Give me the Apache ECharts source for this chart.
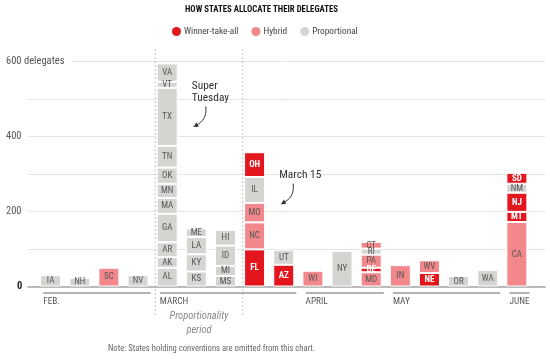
<!DOCTYPE html>
<html><head><meta charset="utf-8">
<script src="https://cdn.jsdelivr.net/npm/echarts@6/dist/echarts.min.js"></script>
<style>html,body{margin:0;padding:0;background:#fff}#c{width:550px;height:359px}</style>
</head><body><div id="c"></div>
<script>
// ---- data ----
const columns = ['Feb 1','Feb 9','Feb 20','Feb 23','Mar 1','Mar 5','Mar 8','Mar 15','Mar 22','Apr 5','Apr 19','Apr 26','May 3','May 10','May 17','May 24','Jun 7'];
// states listed bottom -> top within each column
const states      = ['IA','NH','SC','NV',
  'AL','AK','AR','GA','MA','MN','OK','TN','TX','VT','VA',
  'KS','KY','LA','ME',
  'MS','MI','ID','HI',
  'FL','NC','MO','IL','OH',
  'AZ','UT',
  'WI','NY',
  'MD','DE','PA','RI','CT',
  'IN','NE','WV','OR','WA',
  'CA','MT','NJ','NM','SD'];
const delegates   = [30,23,50,30,
  50,28,40,76,42,38,43,58,155,16,49,
  40,46,46,23,
  28,27,54,42,
  99,72,52,69,66,
  58,40,
  42,95,
  38,12,35,16,18,
  57,36,34,28,44,
  172,27,51,24,29];
const method      = ['P','P','H','P',
  'P','P','P','P','P','P','P','P','P','P','P',
  'P','P','P','P',
  'P','P','P','P',
  'W','H','H','P','W',
  'W','P',
  'H','P',
  'H','W','H','P','H',
  'H','W','H','P','P',
  'H','W','W','P','W'];
const stateColumn = [0,1,2,3,
  4,4,4,4,4,4,4,4,4,4,4,
  5,5,5,5,
  6,6,6,6,
  7,7,7,7,7,
  8,8,
  9,10,
  11,11,11,11,11,
  12,13,13,14,15,
  16,16,16,16,16];
const methodNames = {W:'Winner-take-all', H:'Hybrid', P:'Proportional'};
const monthNames = ['FEB.','MARCH','APRIL','MAY','JUNE'];
const monthStart = [0,4,9,12,16];
const monthEnd   = [3,8,11,15,16];
const dividerBefore = [4,7];
const annotationCol   = [4,7];
const annotationText  = ['Super\nTuesday','March 15'];
const annotationValue = [535,297];
const yMax = 600, yStep = 100;
const yLabelled = [0,200,400,600];

// ---- style ----
const FONT = '"Roboto Condensed",Roboto,"Liberation Sans",sans-serif';
const COLORS = {W:'#e3151d', H:'#f2888c', P:'#d4d4d1'};
const BW = 20;

const perCol = columns.map(()=>[]);
states.forEach((s,i)=>perCol[stateColumn[i]].push(i));
const levels = Math.max(...perCol.map(a=>a.length));
const series = [];
for (let k=0;k<levels;k++){
  series.push({
    type:'bar', stack:'d', xAxisIndex:0, yAxisIndex:0, barWidth:BW+1, silent:true,
    itemStyle:{borderColor:'#fff', borderWidth:1},
    label:{show:true, position:'inside', formatter:p=>p.name, fontFamily:FONT, fontSize:9},
    data: perCol.map(a=>{
      if (k>=a.length) return '-';
      const i=a[k], m=method[i];
      return {value:delegates[i], name:states[i], itemStyle:{color:COLORS[m]},
        label:{color:m==='W'?'#fff':'#555', fontWeight:m==='W'?'bold':'normal'}};
    })
  });
}
['W','H','P'].forEach(m=>series.push({type:'bar', name:methodNames[m], xAxisIndex:0, yAxisIndex:0,
  data:[], itemStyle:{color:COLORS[m]}}));

// month brackets + labels
series.push({
  type:'custom', xAxisIndex:0, yAxisIndex:0, silent:true, clip:false,
  data: monthNames.map((m,i)=>[monthStart[i], monthEnd[i], i]),
  renderItem:(params, api)=>{
    const i = api.value(2);
    const x0 = api.coord([api.value(0),0])[0]-BW/2;
    const x1 = api.coord([api.value(1),0])[0]+BW/2;
    const y0 = api.coord([0,0])[1];
    return {type:'group', children:[
      {type:'line', shape:{x1:x0,y1:y0+6.5,x2:x1,y2:y0+6.5}, style:{stroke:'#9a9a9a', lineWidth:1.5}},
      {type:'text', x:x0, y:y0+15, style:{text:monthNames[i], font:'9.3px '+FONT, fill:'#555', verticalAlign:'middle', align:'left'}}
    ]};
  }
});
// proportionality dividers
series.push({
  type:'custom', xAxisIndex:0, yAxisIndex:0, silent:true, clip:false,
  data: dividerBefore.map((c,i)=>[c,i]),
  renderItem:(params, api)=>{
    const c = api.value(0);
    const x = (api.coord([c-1,0])[0]+api.coord([c,0])[0])/2;
    const yTop = api.coord([0,yMax])[1]-12, yBot = api.coord([0,0])[1]+29;
    const kids = [{type:'line', shape:{x1:x,y1:yTop,x2:x,y2:yBot}, style:{stroke:'#c4c4c4', lineWidth:1.3, lineDash:[1.5,2.5]}}];
    if (api.value(1)===0){
      const c2 = dividerBefore[1];
      const xb = (api.coord([c2-1,0])[0]+api.coord([c2,0])[0])/2;
      const xm = (x+xb)/2, y0 = api.coord([0,0])[1];
      kids.push({type:'text', x:xm, y:y0+30, style:{text:'Proportionality', font:'italic 10.4px '+FONT, fill:'#888', align:'center', verticalAlign:'middle'}});
      kids.push({type:'text', x:xm, y:y0+43.5, style:{text:'period', font:'italic 10.4px '+FONT, fill:'#888', align:'center', verticalAlign:'middle'}});
    }
    return {type:'group', children:kids};
  }
});
// annotations
series.push({
  type:'custom', xAxisIndex:0, yAxisIndex:0, silent:true, clip:false,
  data: annotationCol.map((c,i)=>[c, annotationValue[i], i]),
  renderItem:(params, api)=>{
    const i = api.value(2);
    const p = api.coord([api.value(0), api.value(1)]);
    const lines = annotationText[i].split('\n');
    const tx = p[0]+22, ty = p[1];
    const kids = lines.map((t,j)=>({type:'text', x:tx, y:ty+j*12, style:{text:t, font:'11.4px '+FONT, fill:'#333', align:'left', verticalAlign:'middle'}}));
    const ly = ty+(lines.length-1)*12;
    const sx = tx+14, sy = ly+8.5, ex = tx+1.5, ey = ly+29;
    kids.push({type:'bezierCurve', shape:{x1:sx,y1:sy,cpx1:sx+1,cpy1:sy+11,cpx2:ex+9,cpy2:ey-5,x2:ex+3,y2:ey-1.6}, style:{stroke:'#333', lineWidth:1, fill:null}});
    kids.push({type:'polygon', shape:{points:[[ex,ey],[ex+3.2,ey-4.6],[ex+5.4,ey-0.2]]}, style:{fill:'#333'}});
    return {type:'group', children:kids};
  }
});

const chart = echarts.init(document.getElementById('c'), null, {renderer:'canvas'});
chart.setOption({
  animation:false,
  title:[
    {text:'HOW STATES ALLOCATE THEIR DELEGATES', left:185, top:5, padding:0,
     textStyle:{fontFamily:FONT, fontWeight:'bold', fontSize:8.75, color:'#111'}},
    {text:'Note: States holding conventions are omitted from this chart.', left:108, top:344, padding:0,
     textStyle:{fontFamily:FONT, fontWeight:'normal', fontSize:8.6, color:'#666'}}
  ],
  legend:{data:['Winner-take-all','Hybrid','Proportional'], left:172, top:27, icon:'circle',
    itemWidth:9, itemHeight:9, itemGap:13, padding:0,
    textStyle:{fontFamily:FONT, fontSize:9.3, color:'#444', padding:[0,0,0,-2]}},
  grid:[
    {left:38.7, right:15.9, top:61.5, bottom:72.5},
    {left:28, right:5, top:61.5, bottom:72.5}
  ],
  xAxis:[
    {type:'category', gridIndex:0, data:columns, show:false},
    {type:'value', gridIndex:1, min:0, max:1, axisLabel:{show:false}, axisTick:{show:false}, splitLine:{show:false},
     axisLine:{show:true, lineStyle:{color:'#a5a5a5', width:1.5}}}
  ],
  yAxis:[
    {type:'value', gridIndex:0, min:0, max:yMax, interval:yStep, show:false},
    {type:'value', gridIndex:1, min:0, max:yMax, interval:yStep, axisLine:{show:false}, axisTick:{show:false},
     splitLine:{lineStyle:{color:'#e4e4e4', width:1}},
     axisLabel:{align:'left', margin:22, verticalAlign:'middle',
       formatter:v=> v===0 ? '{z|0}' : (v===yMax ? '{a|'+v+' delegates}' : (yLabelled.includes(v) ? '{a|'+v+'}' : '')),
       rich:{a:{fontFamily:FONT, fontSize:10.5, color:'#555', backgroundColor:'#fff', padding:[1,7,1,0]},
             z:{fontFamily:FONT, fontSize:10.5, fontWeight:'bold', color:'#222', padding:[0,0,0,11]}}}}
  ],
  series: series
});
</script></body></html>
